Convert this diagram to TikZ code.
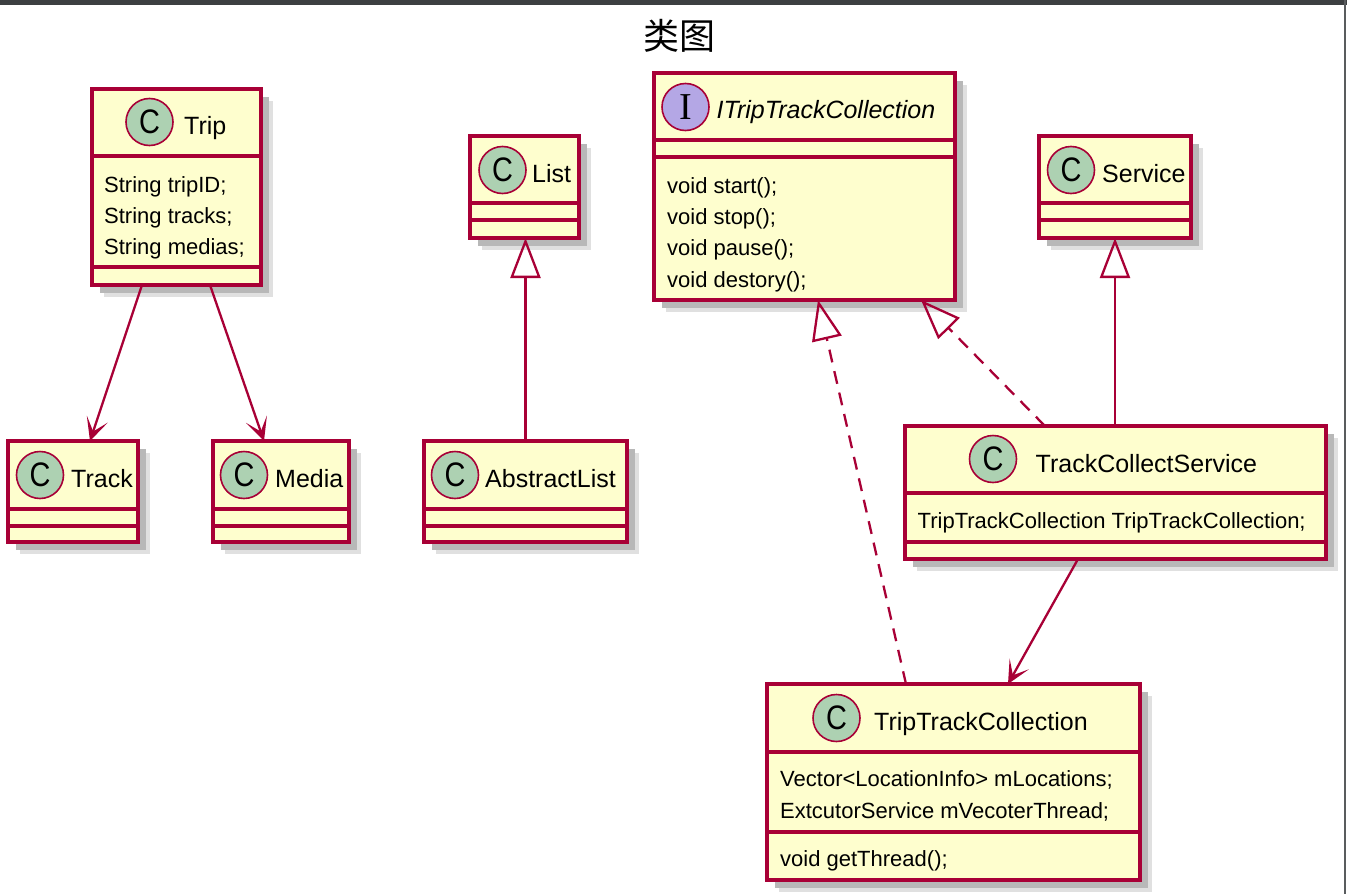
\documentclass[tikz,border=0pt]{standalone}
\usepackage{fontspec}
\setmainfont{Liberation Sans}
\newfontfamily\cjk{Noto Sans CJK SC}
\newfontfamily\badgefont[FakeStretch=0.85]{Liberation Sans}
\newfontfamily\ifacefont{Liberation Serif}
\usepackage{tikz}
\usetikzlibrary{arrows.meta,shadows}
\definecolor{umlred}{HTML}{A80036}
\definecolor{umlfill}{HTML}{FEFECE}
\definecolor{umlgreen}{HTML}{ADD1B2}
\definecolor{umlpurple}{HTML}{B4A7E5}
\definecolor{framegray}{HTML}{3C3F41}

\begin{document}
\begin{tikzpicture}[x=1pt, y=-1pt,
    classbox/.style={draw=umlred, fill=umlfill, line width=3.2pt, inner sep=0pt, outer sep=0pt,
        drop shadow={shadow xshift=12pt, shadow yshift=-12pt, fill=black!12, opacity=1},
        drop shadow={shadow xshift=8pt, shadow yshift=-8pt, fill=black!28, opacity=1}},
    divider/.style={draw=umlred, line width=3.2pt},
    badge/.style={circle, draw=umlred, fill=umlgreen, line width=1.6pt, minimum size=47pt, inner sep=0pt,
        font=\badgefont\fontsize{34}{34}\selectfont},
    ibadge/.style={badge, fill=umlpurple, font=\ifacefont\fontsize{38}{38}\selectfont},
    cname/.style={anchor=base west, inner sep=0pt, font=\fontsize{25}{30}\selectfont},
    member/.style={anchor=base west, inner sep=0pt, font=\fontsize{22}{26}\selectfont},
    assoc/.style={draw=umlred, line width=2.3pt, -{Stealth[length=23pt, width=22pt, inset=13pt]}},
    extends/.style={draw=umlred, line width=2.3pt, -{Triangle[open, length=40pt, width=30pt]}},
    implements/.style={extends, dash pattern=on 13pt off 9pt}]

    % page frame
    \fill[white] (0,0) rectangle (1347,894);
    \useasboundingbox (0,0) rectangle (1347,894);
    \fill[framegray] (0,0) rectangle (1347,4.5);
    \draw[framegray!85, line width=1.6pt] (1345,0) -- (1345,894);

    \node[font=\cjk\fontsize{36}{36}\selectfont, inner sep=0pt] (title) at (679,36) {类图};

    % class boxes
    \node[classbox, minimum width=169pt, minimum height=196pt] (trip) at (176.5,187) {};
    \node[classbox, minimum width=130pt, minimum height=101pt] (track) at (73,491.5) {};
    \node[classbox, minimum width=136pt, minimum height=101pt] (media) at (281,491.5) {};
    \node[classbox, minimum width=109pt, minimum height=102pt] (list) at (524.5,187) {};
    \node[classbox, minimum width=203pt, minimum height=101pt] (alist) at (525.5,491.5) {};
    \node[classbox, minimum width=301pt, minimum height=227pt] (itrip) at (804.5,186.5) {};
    \node[classbox, minimum width=152pt, minimum height=102pt] (service) at (1115,187) {};
    \node[classbox, minimum width=421pt, minimum height=133pt] (tcs) at (1115.5,492.5) {};
    \node[classbox, minimum width=373pt, minimum height=196pt] (ttc) at (953.5,782) {};

    % compartments
    \draw[divider] (trip.west |- 0,156) -- (trip.east |- 0,156);
    \draw[divider] (trip.west |- 0,267) -- (trip.east |- 0,267);
    \draw[divider] (track.west |- 0,509) -- (track.east |- 0,509);
    \draw[divider] (track.west |- 0,526) -- (track.east |- 0,526);
    \draw[divider] (media.west |- 0,509) -- (media.east |- 0,509);
    \draw[divider] (media.west |- 0,526) -- (media.east |- 0,526);
    \draw[divider] (list.west |- 0,203) -- (list.east |- 0,203);
    \draw[divider] (list.west |- 0,220) -- (list.east |- 0,220);
    \draw[divider] (alist.west |- 0,509) -- (alist.east |- 0,509);
    \draw[divider] (alist.west |- 0,526) -- (alist.east |- 0,526);
    \draw[divider] (itrip.west |- 0,140) -- (itrip.east |- 0,140);
    \draw[divider] (itrip.west |- 0,157) -- (itrip.east |- 0,157);
    \draw[divider] (service.west |- 0,203) -- (service.east |- 0,203);
    \draw[divider] (service.west |- 0,220) -- (service.east |- 0,220);
    \draw[divider] (tcs.west |- 0,493) -- (tcs.east |- 0,493);
    \draw[divider] (tcs.west |- 0,542) -- (tcs.east |- 0,542);
    \draw[divider] (ttc.west |- 0,752) -- (ttc.east |- 0,752);
    \draw[divider] (ttc.west |- 0,832) -- (ttc.east |- 0,832);

    % headers
    \node[badge] (tripC) at (149.5,122) {C};
    \node[cname] (tripname) at (184,134) {Trip};
    \node[badge] (trackC) at (40,475) {C};
    \node[cname] (trackname) at (71,487) {Track};
    \node[badge] (mediaC) at (244,475) {C};
    \node[cname] (medianame) at (275,487) {Media};
    \node[badge] (listC) at (502.5,170) {C};
    \node[cname] (listname) at (532,182) {List};
    \node[badge] (alistC) at (455,475) {C};
    \node[cname] (alistname) at (485,487) {AbstractList};
    \node[ibadge] (itripI) at (685.5,107) {I};
    \node[cname, font=\fontsize{25}{30}\selectfont\itshape] (itripname) at (716.5,118) {ITripTrackCollection};
    \node[badge] (serviceC) at (1071,170) {C};
    \node[cname] (servicename) at (1102,182) {Service};
    \node[badge] (tcsC) at (993,459) {C};
    \node[cname] (tcsname) at (1035.5,472) {TrackCollectService};
    \node[badge] (ttcC) at (836.5,718) {C};
    \node[cname] (ttcname) at (874,730) {TripTrackCollection};

    % members
    \node[member] (tripattr1) at (104,192) {String tripID;};
    \node[member] (tripattr2) at (104,223) {String tracks;};
    \node[member] (tripattr3) at (104,254) {String medias;};
    \node[member] (itripop1) at (667,193) {void start();};
    \node[member] (itripop2) at (667,224) {void stop();};
    \node[member] (itripop3) at (667,255.5) {void pause();};
    \node[member] (itripop4) at (667,287) {void destory();};
    \node[member] (tcsattr1) at (917.5,528) {TripTrackCollection TripTrackCollection;};
    \node[member] (ttcattr1) at (780,786.5) {Vector<LocationInfo> mLocations;};
    \node[member] (ttcattr2) at (780,818) {ExtcutorService mVecoterThread;};
    \node[member] (ttcop1) at (780,866.5) {void getThread();};

    % relations
    \draw[assoc] ([xshift=50pt]trip.south west) -- ([xshift=82pt]track.north west);
    \draw[assoc] ([xshift=118pt]trip.south west) -- ([xshift=51pt]media.north west);
    \draw[extends] (alist.north) -- (alist.north |- list.south);
    \draw[extends] ([xshift=210pt]tcs.north west) -- (service.south);
    \draw[implements] ([xshift=140pt]tcs.north west) -- ([xshift=267pt]itrip.south west);
    \draw[implements] ([xshift=139pt]ttc.north west) -- ([xshift=164pt]itrip.south west);
    \draw[assoc] ([xshift=173pt]tcs.south west) -- ([xshift=241pt]ttc.north west);

\end{tikzpicture}
\end{document}
